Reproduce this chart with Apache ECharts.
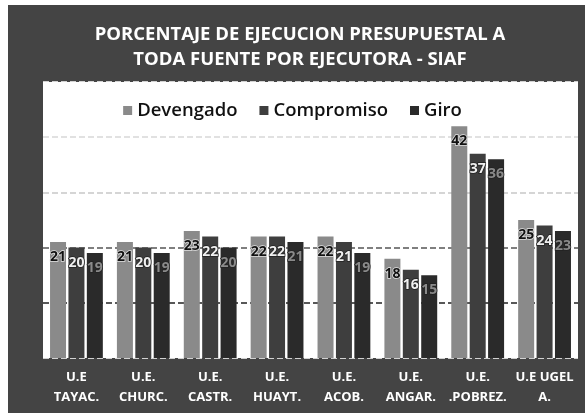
<!DOCTYPE html>
<html>
<head>
<meta charset="utf-8">
<script src="https://cdn.jsdelivr.net/npm/echarts@6/dist/echarts.min.js"></script>
<style>
  html, body { margin: 0; padding: 0; background: #fff; }
  #chart { width: 585px; height: 413px; }
</style>
</head>
<body>
<div id="chart"></div>
<script>
const categories = ['U.E\nTAYAC.', 'U.E.\nCHURC.', 'U.E.\nCASTR.', 'U.E.\nHUAYT.', 'U.E.\nACOB.', 'U.E.\nANGAR.', 'U.E.\n.POBREZ.', 'U.E UGEL\nA.'];
const devengado = [21, 21, 23, 22, 22, 18, 42, 25];
const compromiso = [20, 20, 22, 22, 21, 16, 37, 24];
const giro = [19, 19, 20, 21, 19, 15, 36, 23];

const FONT = '"Open Sans", "DejaVu Sans", sans-serif';

const chart = echarts.init(document.getElementById('chart'));

// one bar series, label style depends on how dark the bar is
const makeSeries = (name, data, color, labelColor, labelBorder) => ({
    name,
    type: 'bar',
    data,
    barWidth: 16,
    barGap: '15%',
    itemStyle: { color },
    label: {
        show: true,
        position: 'insideTop',
        distance: 8,
        fontFamily: FONT,
        fontWeight: 'bold',
        fontSize: 14,
        color: labelColor,
        textBorderColor: labelBorder,
        textBorderWidth: 1.5
    }
});

chart.setOption({
    backgroundColor: '#fff',
    animation: false,
    graphic: [
        // dark scanned frame behind everything
        { type: 'rect', z: -10, shape: { x: 8, y: 5, width: 577, height: 408 }, style: { fill: '#444' } },
        {
            type: 'text', x: 300, y: 22,
            style: {
                text: 'PORCENTAJE DE EJECUCION PRESUPUESTAL A\nTODA FUENTE POR EJECUTORA - SIAF',
                fill: '#fff', font: 'bold 18.5px ' + FONT, lineHeight: 25,
                align: 'center', textAlign: 'center'
            }
        }
    ],
    legend: {
        top: 96,
        left: 'center',
        itemWidth: 9,
        itemHeight: 9,
        itemGap: 22,
        icon: 'rect',
        textStyle: { fontFamily: FONT, fontSize: 18.5, fontWeight: 600, color: '#111' },
        data: ['Devengado', 'Compromiso', 'Giro']
    },
    grid: {
        left: 43, right: 7, top: 82, bottom: 55,
        show: true, backgroundColor: '#fff', borderWidth: 0
    },
    xAxis: {
        type: 'category',
        data: categories,
        axisLine: { show: false },
        axisTick: { show: false },
        axisLabel: {
            margin: 9,
            interval: 0,
            color: '#fff',
            fontFamily: FONT,
            fontWeight: 'bold',
            fontSize: 13,
            lineHeight: 20
        }
    },
    yAxis: {
        type: 'value',
        min: 0,
        max: 50,
        interval: 10,
        axisLabel: { show: false },
        axisLine: { show: false },
        axisTick: { show: false },
        splitLine: {
            lineStyle: {
                type: 'dashed',
                width: 1.5,
                color: ['#fff', '#222', '#555', '#c8c8c8', '#d8d8d8', '#fff']
            }
        }
    },
    series: [
        makeSeries('Devengado', devengado, '#8a8a8a', '#111', '#e0e0e0'),
        makeSeries('Compromiso', compromiso, '#3e3e3e', '#f0f0f0', '#222'),
        makeSeries('Giro', giro, '#2a2a2a', '#8a8a8a', '#222')
    ]
});
</script>
</body>
</html>
